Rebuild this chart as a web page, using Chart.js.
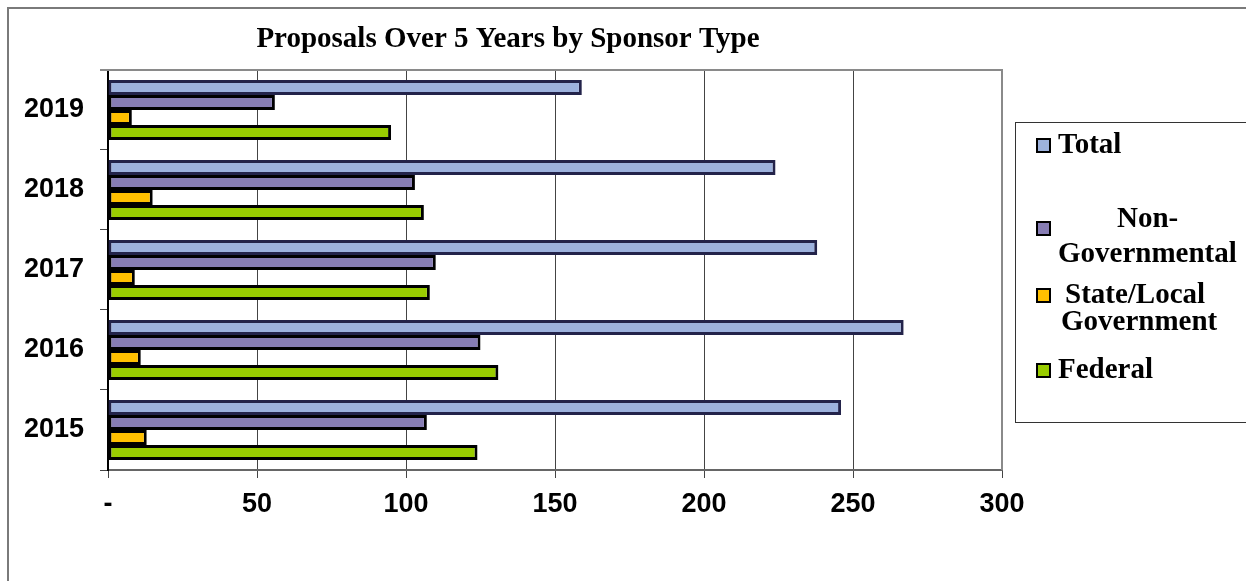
<!DOCTYPE html>
<html>
<head>
<meta charset="utf-8">
<script src="https://cdn.jsdelivr.net/npm/chart.js@4.4.1/dist/chart.umd.min.js"></script>
<style>
  body { margin: 0; background: #fff; }
  #wrap { position: relative; width: 1246px; height: 581px; overflow: hidden; }
  #frame { position: absolute; left: 7px; top: 7px; width: 1400px; height: 700px; border: 2px solid #7a7a7a; }
  #myChart { position: absolute; left: 0; top: 0; }
  #legend { position: absolute; left: 1015px; top: 122px; width: 300px; height: 299px; border: 1px solid #333; }
  #legend div { position: absolute; font: bold 29px "Liberation Serif", "Times New Roman", serif; line-height: 29px; color: #000; white-space: nowrap; }
  #legend span.sw { position: absolute; width: 11px; height: 11px; border: 2px solid #000; }
</style>
</head>
<body>
<div id="wrap">
  <div id="frame"></div>
  <canvas id="myChart" width="1246" height="581"></canvas>
  <div id="legend"></div>
</div>
<script>
var years = ['2019', '2018', '2017', '2016', '2015'];
var total = [159, 224, 238, 267, 246];
var nonGov = [56, 103, 110, 125, 107];
var stateLocal = [8, 15, 9, 11, 13];
var federal = [95, 106, 108, 131, 124];
var xTicks = [0, 50, 100, 150, 200, 250, 300];

var seriesNames = ['Total', 'Non-Governmental', 'State/Local Government', 'Federal'];
var seriesColors = ['#9db2dd', '#877db4', '#ffc000', '#99cc00'];
var seriesBorders = ['#23234a', '#000000', '#000000', '#000000'];
var seriesData = [total, nonGov, stateLocal, federal];

var datasets = seriesData.map(function (d, i) {
  return {
    label: seriesNames[i],
    data: d,
    backgroundColor: seriesColors[i],
    borderColor: seriesBorders[i],
    borderWidth: 3,
    borderSkipped: false,
    categoryPercentage: 0.75,
    barPercentage: 1.0
  };
});

// top + right edge of the plot area
const plotEdge = {
  id: 'plotEdge',
  afterDatasetsDraw(chart) {
    const { ctx, chartArea: { top, right, bottom, left } } = chart;
    ctx.save();
    ctx.strokeStyle = '#8a8a8a';
    ctx.lineWidth = 2;
    ctx.beginPath();
    ctx.moveTo(left - 8, top);
    ctx.lineTo(right, top);
    ctx.lineTo(right, bottom);
    ctx.stroke();
    ctx.restore();
  }
};

var ctx = document.getElementById('myChart').getContext('2d');
var myChart = new Chart(ctx, {
  type: 'bar',
  data: { labels: years, datasets: datasets },
  plugins: [plotEdge],
  options: {
    indexAxis: 'y',
    responsive: false,
    animation: false,
    layout: { padding: { left: 14, right: 244, top: 0, bottom: 0 } },
    plugins: {
      legend: { display: false },
      tooltip: { enabled: false },
      title: {
        display: true,
        text: 'Proposals Over 5 Years by Sponsor Type',
        color: '#000',
        font: { family: '"Liberation Serif", "Times New Roman", serif', size: 29, weight: 'bold', lineHeight: 1.1 },
        padding: { top: 24, bottom: 14 }
      }
    },
    scales: {
      x: {
        min: 0,
        max: 300,
        afterBuildTicks: function (s) { s.ticks = xTicks.map(function (v) { return { value: v }; }); },
        afterFit: function (s) { s.height = 111; },
        ticks: {
          color: '#000',
          font: { family: '"Liberation Sans", Arial, sans-serif', size: 27, weight: 'bold' },
          padding: 10,
          callback: function (v) { return v === 0 ? '-' : v; }
        },
        grid: { color: '#444', lineWidth: 1, tickLength: 8, tickColor: '#444' },
        border: { color: '#666', width: 2 }
      },
      y: {
        afterFit: function (s) { s.width = 94; },
        ticks: {
          color: '#000',
          font: { family: '"Liberation Sans", Arial, sans-serif', size: 27, weight: 'bold' },
          padding: 16
        },
        grid: { offset: true, drawOnChartArea: false, tickLength: 8, color: '#444' },
        border: { color: '#000', width: 2 }
      }
    }
  }
});

// legend, built from the series
var legendItems = [
  { sw: 15, lines: [{ t: 'Total', x: 42, y: 6 }] },
  { sw: 98, lines: [{ t: 'Non-', x: 101, y: 80 }, { t: 'Governmental', x: 42, y: 115 }] },
  { sw: 165, lines: [{ t: 'State/Local', x: 49, y: 156 }, { t: 'Government', x: 45, y: 183 }] },
  { sw: 240, lines: [{ t: 'Federal', x: 42, y: 231 }] }
];
var legend = document.getElementById('legend');
legendItems.forEach(function (item, i) {
  var sw = document.createElement('span');
  sw.className = 'sw';
  sw.style.left = '20px';
  sw.style.top = item.sw + 'px';
  sw.style.background = seriesColors[i];
  legend.appendChild(sw);
  item.lines.forEach(function (l) {
    var d = document.createElement('div');
    d.textContent = l.t;
    d.style.left = l.x + 'px';
    d.style.top = l.y + 'px';
    legend.appendChild(d);
  });
});
</script>
</body>
</html>
